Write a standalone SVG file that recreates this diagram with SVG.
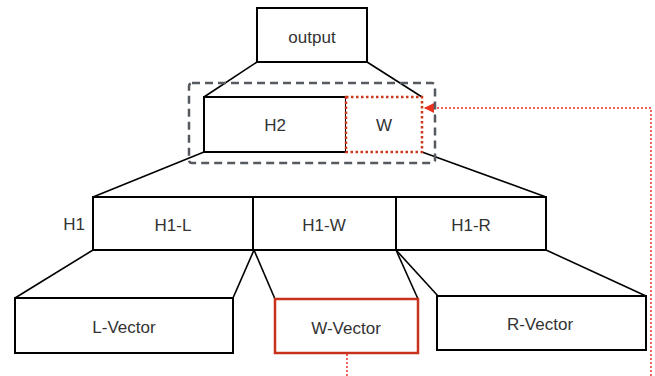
<svg xmlns="http://www.w3.org/2000/svg" width="655" height="376" viewBox="0 0 655 376">
<style>
.box{fill:#fff;stroke:#000;stroke-width:2}
.t{font-family:"Liberation Sans",Arial,sans-serif;font-size:17px;fill:#333;text-anchor:middle;dominant-baseline:central}
.ln{stroke:#000;stroke-width:1.6;fill:none}
.red{stroke:#e8321e;stroke-width:1.5;stroke-dasharray:2,2;fill:none}
</style>
<defs>
<marker id="ah" viewBox="0 0 10 10" refX="9" refY="5" markerWidth="10" markerHeight="10" markerUnits="userSpaceOnUse" orient="auto">
<path d="M0,0 L10,5 L0,10 Z" fill="#e8321e"/>
</marker>
</defs>
<g id="connectors">
<line class="ln" x1="257" y1="62" x2="204" y2="97"/>
<line class="ln" x1="367" y1="62" x2="422" y2="97"/>
<line class="ln" x1="204" y1="152" x2="93" y2="197"/>
<line class="ln" x1="422" y1="152" x2="546" y2="197"/>
<line class="ln" x1="93" y1="250" x2="15" y2="298"/>
<line class="ln" x1="254" y1="250" x2="233" y2="298"/>
<line class="ln" x1="254" y1="250" x2="275" y2="299"/>
<line class="ln" x1="396" y1="250" x2="418" y2="299"/>
<line class="ln" x1="396" y1="250" x2="438" y2="296"/>
<line class="ln" x1="546" y1="250" x2="646" y2="296"/>
<line class="red" x1="347" y1="354" x2="347" y2="376"/>
<polyline class="red" points="651,376 651,108 425,108" marker-end="url(#ah)"/>
</g>
<g id="output">
<rect class="box" x="257" y="8" width="110" height="54"/>
<text class="t" x="312" y="37">output</text>
</g>
<g id="group-h2w">
<rect x="189" y="83" width="246" height="80" rx="3" fill="none" stroke="#555a60" stroke-width="2.5" stroke-dasharray="8,5"/>
</g>
<g id="H2">
<rect class="box" x="204" y="97" width="142" height="55"/>
<text class="t" x="275" y="125">H2</text>
</g>
<g id="W">
<rect x="346" y="97" width="76" height="55" fill="#fff" stroke="#cc3a1e" stroke-width="2.5" stroke-dasharray="2.5,2.5"/>
<text class="t" x="384" y="125">W</text>
</g>
<g id="H1">
<text class="t" x="74" y="224">H1</text>
</g>
<g id="H1-L">
<rect class="box" x="93" y="197" width="160" height="53"/>
<text class="t" x="173" y="225">H1-L</text>
</g>
<g id="H1-W">
<rect class="box" x="253" y="197" width="143" height="53"/>
<text class="t" x="324" y="225">H1-W</text>
</g>
<g id="H1-R">
<rect class="box" x="396" y="197" width="150" height="53"/>
<text class="t" x="471" y="225">H1-R</text>
</g>
<g id="L-Vector">
<rect class="box" x="15" y="298" width="218" height="55"/>
<text class="t" x="124" y="327">L-Vector</text>
</g>
<g id="W-Vector">
<rect x="275" y="299" width="143" height="54" fill="#fff" stroke="#c8321a" stroke-width="2.5"/>
<text class="t" x="346" y="328">W-Vector</text>
</g>
<g id="R-Vector">
<rect class="box" x="437" y="296" width="209" height="54"/>
<text class="t" x="540" y="324">R-Vector</text>
</g>
</svg>
